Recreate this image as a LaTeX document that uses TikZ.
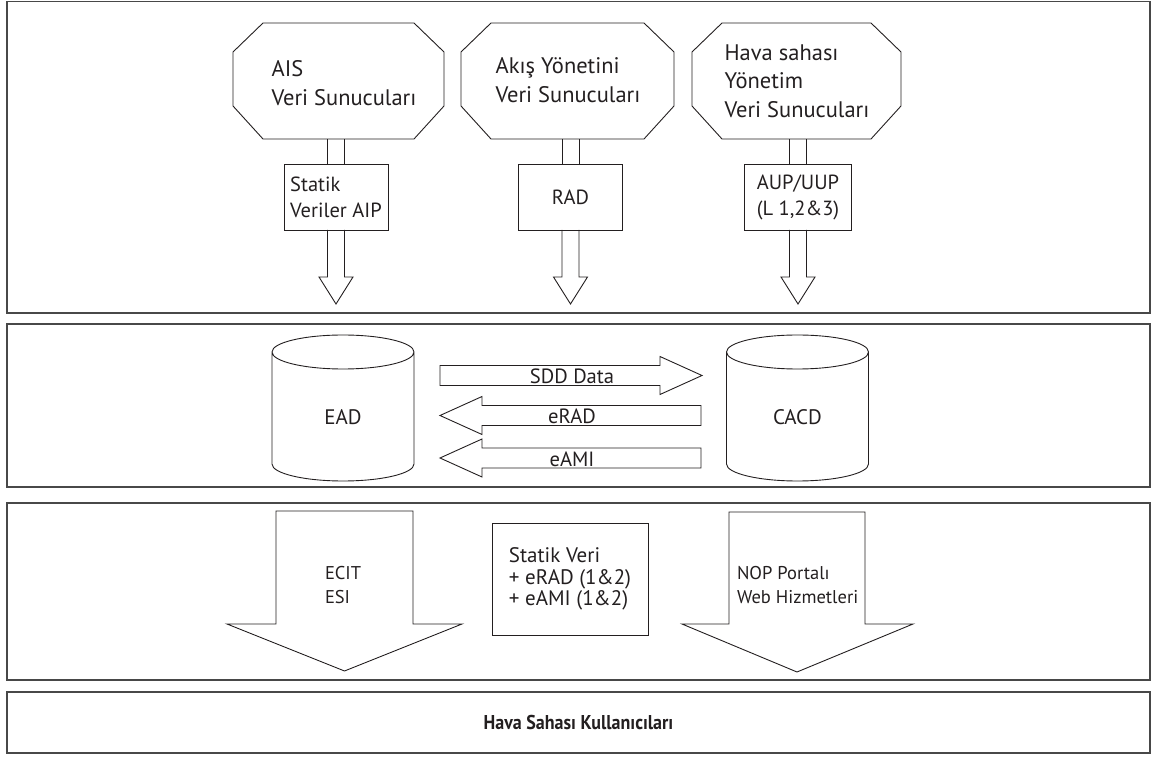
\documentclass[tikz,border=0pt]{standalone}
\usepackage{graphicx}
\usepackage{fontspec}
\setmainfont{PT Sans}
\usetikzlibrary{calc}
\definecolor{ink}{RGB}{35,31,32}
\definecolor{framegray}{RGB}{72,72,72}
\begin{document}
\begin{tikzpicture}[x=1pt,y=1pt,
  panel/.style={draw=framegray,line width=1.8pt,inner sep=0pt},
  shp/.style={draw=ink,line width=0.9pt,line join=miter},
  holder/.style={inner sep=0pt,outer sep=0pt,text=ink,align=left},
  boxn/.style={draw=ink,line width=0.9pt,inner sep=0pt,outer sep=0pt,text=ink,align=left},
  bigtxt/.style={font=\fontsize{22.5}{28.5}\selectfont},
  boxtxt/.style={font=\fontsize{20.5}{26}\selectfont},
  dbtxt/.style={font=\fontsize{21}{24}\selectfont},
  flowtxt/.style={font=\fontsize{20.6}{24}\selectfont},
  lowtxt/.style={font=\fontsize{18.5}{24}\selectfont},
  boxlow/.style={font=\fontsize{21}{21.5}\selectfont},
  usertxt/.style={font=\fontsize{20}{22}\selectfont\bfseries}
]
\useasboundingbox (0,0) rectangle (1152,756);

% ---- three layers and the user bar ----
\node[panel,minimum width=1143,minimum height=311.5] (p1) at (578.5,598.75) {};
\node[panel,minimum width=1143,minimum height=163] (p2) at (578.5,350.5) {};
\node[panel,minimum width=1143,minimum height=177] (p3) at (578.5,164.5) {};
\node[panel,minimum width=1143,minimum height=61] (p4) at (578.5,33.5) {};
\node[holder,usertxt] (users) at (p4.center)
  {\scalebox{0.9}[1]{Hava Sahası Kullanıcıları}};

% ---- data servers (octagons) ----
\node[holder,minimum width=211,minimum height=116] (o1) at (338.5,675) {};
\node[holder,minimum width=213,minimum height=116] (o2) at (567.5,675) {};
\node[holder,minimum width=209,minimum height=116] (o3) at (796.5,675) {};
\foreach \o in {o1,o2,o3}
  \draw[shp] ([xshift=30pt]\o.north west) -- ([xshift=-30pt]\o.north east)
    -- ([yshift=-29pt]\o.north east) -- ([yshift=33pt]\o.south east)
    -- ([xshift=-30pt]\o.south east) -- ([xshift=30pt]\o.south west)
    -- ([yshift=33pt]\o.south west) -- ([yshift=-29pt]\o.north west) -- cycle;
\node[holder,bigtxt] (o1t) at ([xshift=5.5pt,yshift=-2pt]o1.center) {AIS\\Veri Sunucuları};
\node[holder,bigtxt] (o2t) at ([xshift=0.5pt,yshift=1pt]o2.center) {Akış Yönetini\\Veri Sunucuları};
\node[holder,bigtxt] (o3t) at ([xshift=0.5pt]o3.center) {Hava sahası\\Yönetim\\Veri Sunucuları};

% ---- published data boxes ----
\node[boxn,boxtxt,minimum width=104,minimum height=66] (b1) at (336,559) {Statik\\Veriler AIP};
\node[boxn,boxtxt,minimum width=104,minimum height=66] (b2) at (570.5,559) {RAD};
\node[boxn,boxtxt,minimum width=107,minimum height=66] (b3) at (798,559) {AUP/UUP\\(L 1,2\&3)};

% ---- hollow double-line arrows from servers through boxes ----
\foreach \b/\o in {b1/o1,b2/o2,b3/o3}{
  \draw[shp] ($(\b.north)+(-8.5,0)$) -- ($(\b.north |- \o.south)+(-8.5,0)$);
  \draw[shp] ($(\b.north)+(8.5,0)$) -- ($(\b.north |- \o.south)+(8.5,0)$);
  \draw[shp] ($(\b.south)+(-8.5,0)$) -- ++(0,-47) -- ++(-8.5,0) -- ++(17,-27)
    -- ++(17,27) -- ++(-8.5,0) -- ($(\b.south)+(8.5,0)$);
}

% ---- databases (cylinders) ----
\node[holder,minimum width=142,minimum height=146] (ead) at (343,348) {};
\node[holder,minimum width=142,minimum height=146] (cacd) at (797.5,348) {};
\foreach \c in {ead,cacd}
  \draw[shp] ([yshift=-17pt]\c.north west) -- ([yshift=17pt]\c.south west)
    arc[start angle=180,end angle=360,x radius=71pt,y radius=17pt]
    -- ([yshift=-17pt]\c.north east)
    arc[start angle=0,end angle=180,x radius=71pt,y radius=17pt]
    arc[start angle=180,end angle=360,x radius=71pt,y radius=17pt];
\node[holder,dbtxt] (eadtxt) at ([yshift=-9pt]ead.center) {EAD};
\node[holder,dbtxt] (cacdtxt) at ([yshift=-9pt]cacd.center) {CACD};

% ---- exchanges between EAD and CACD ----
\coordinate (sddTail) at ($(ead.east)+(26,32.5)$);
\coordinate (eradTip) at ($(ead.east)+(26,-7.5)$);
\coordinate (eamiTip) at ($(ead.east)+(26,-50)$);
\draw[shp] ($(sddTail)+(0,10)$) -- ++(220,0) -- ++(0,9) -- ++(42,-19)
  -- ++(-42,-19) -- ++(0,9) -- ++(-220,0) -- cycle;
\draw[shp] (eradTip) -- ++(42,19) -- ++(0,-9) -- ++(219,0) -- ++(0,-20)
  -- ++(-219,0) -- ++(0,-9) -- cycle;
\draw[shp] (eamiTip) -- ++(42,19) -- ++(0,-9) -- ++(219,0) -- ++(0,-20)
  -- ++(-219,0) -- ++(0,-9) -- cycle;
\node[holder,flowtxt] (sddlbl) at (572,380) {SDD Data};
\node[holder,flowtxt] (eradlbl) at (572,340) {eRAD};
\node[holder,flowtxt] (eamilbl) at (572,297) {eAMI};

% ---- distribution layer ----
\draw[shp] (276,245) -- (413,245) -- (413,132) -- (462,132) -- (344.5,85)
  -- (227,132) -- (276,132) -- cycle;
\draw[shp] (729,244) -- (865,244) -- (865,132) -- (913,132) -- (797,84)
  -- (682,132) -- (729,132) -- cycle;
\node[holder,lowtxt,anchor=west] (ecit) at (325,171) {ECIT\\ESI};
\node[holder,lowtxt,anchor=west] (nop) at (737,171) {NOP Portalı\\Web Hizmetleri};
\node[boxn,boxlow,minimum width=156,minimum height=112] (sv) at (570,177)
  {Statik Veri\\+ eRAD (1\&2)\\+ eAMI (1\&2)};
\end{tikzpicture}
\end{document}
